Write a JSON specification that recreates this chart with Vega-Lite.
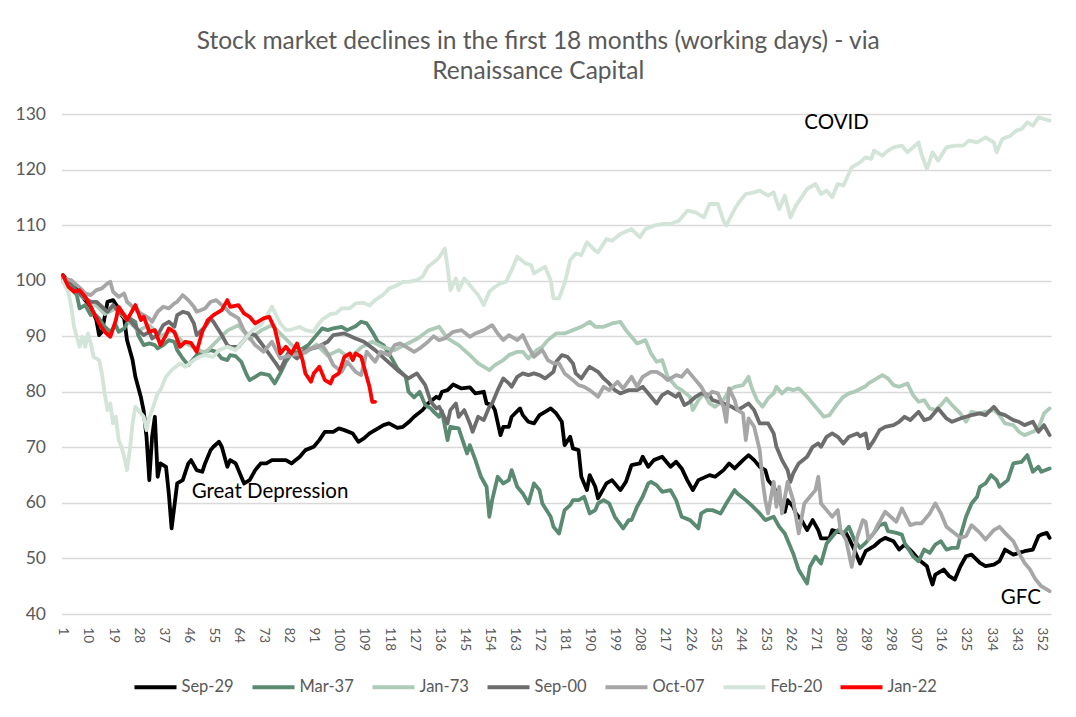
{
  "$schema": "https://vega.github.io/schema/vega-lite/v6.json",
  "width": 989.5,
  "height": 500,
  "autosize": {"type": "none"},
  "padding": {"left": 61.5, "top": 114, "right": 25, "bottom": 103},
  "background": "white",
  "title": {
    "text": ["Stock market declines in the first 18 months (working days) - via", "Renaissance Capital"],
    "font": "Lato",
    "fontSize": 24.5,
    "fontWeight": "normal",
    "color": "#595959",
    "anchor": "middle",
    "dx": -18,
    "offset": 21,
    "lineHeight": 30
  },
  "config": {
    "view": {"stroke": null},
    "font": "Lato"
  },
  "encoding": {
    "x": {
      "field": "d",
      "type": "quantitative",
      "scale": {"domain": [0.5, 355.5], "nice": false, "zero": false},
      "axis": {
        "title": null,
        "values": [1, 10, 19, 28, 37, 46, 55, 64, 73, 82, 91, 100, 109, 118, 127, 136, 145, 154, 163, 172, 181, 190, 199, 208, 217, 226, 235, 244, 253, 262, 271, 280, 289, 298, 307, 316, 325, 334, 343, 352],
        "labelAngle": 90,
        "grid": false,
        "ticks": false,
        "domain": false,
        "labelColor": "#595959",
        "labelFont": "Lato",
        "labelFontSize": 13.5,
        "labelPadding": 13,
        "labelOverlap": false,
        "labelFlush": false
      }
    },
    "y": {
      "field": "v",
      "type": "quantitative",
      "scale": {"domain": [40, 130], "nice": false, "zero": false},
      "axis": {
        "title": null,
        "values": [40, 50, 60, 70, 80, 90, 100, 110, 120, 130],
        "grid": true,
        "gridColor": "#D9D9D9",
        "gridWidth": 1.3,
        "domain": false,
        "ticks": false,
        "labelColor": "#595959",
        "labelFont": "Lato",
        "labelFontSize": 17.5,
        "labelPadding": 16
      }
    }
  },
  "layer": [
    {
      "data": {"values": [
        {"d":1,"v":101},{"d":3,"v":99.8},{"d":6,"v":98.9},{"d":8,"v":97.1},{"d":10,"v":95.9},{"d":11,"v":95.3},{"d":13,"v":92.9},{"d":14,"v":90.2},{"d":15,"v":90.8},{"d":17,"v":96.2},{"d":19,"v":96.5},{"d":21,"v":95},{"d":22,"v":93.8},{"d":23,"v":93.2},{"d":24,"v":89.3},{"d":26,"v":85.7},{"d":27,"v":82.7},{"d":29,"v":79},{"d":30,"v":76.5},{"d":31,"v":71.9},{"d":32,"v":64.1},{"d":33,"v":71.9},{"d":34,"v":75.5},{"d":35,"v":64.7},{"d":36,"v":67.1},{"d":38,"v":66.5},{"d":39,"v":61.7},{"d":40,"v":55.4},{"d":42,"v":63.5},{"d":44,"v":64.1},{"d":46,"v":67.1},{"d":47,"v":67.7},{"d":49,"v":65.9},{"d":51,"v":65.6},{"d":52,"v":67.1},{"d":54,"v":69.5},{"d":55,"v":70.1},{"d":57,"v":71},{"d":58,"v":70.1},{"d":60,"v":66.5},{"d":61,"v":67.7},{"d":63,"v":67.1},{"d":64,"v":65.9},{"d":66,"v":63.5},{"d":68,"v":64.1},{"d":70,"v":65.9},{"d":72,"v":67.1},{"d":74,"v":67.1},{"d":76,"v":67.7},{"d":79,"v":67.7},{"d":81,"v":67.7},{"d":83,"v":67.1},{"d":86,"v":68.3},{"d":88,"v":69.5},{"d":91,"v":70.1},{"d":93,"v":71.3},{"d":95,"v":72.8},{"d":98,"v":72.8},{"d":100,"v":73.4},{"d":102,"v":73.1},{"d":105,"v":72.5},{"d":107,"v":71},{"d":109,"v":71.6},{"d":111,"v":72.5},{"d":113,"v":73.1},{"d":116,"v":74},{"d":118,"v":74.3},{"d":121,"v":73.5},{"d":123,"v":73.7},{"d":125,"v":74.5},{"d":127,"v":75.5},{"d":130,"v":76.7},{"d":132,"v":77.9},{"d":135,"v":79.1},{"d":136,"v":78.8},{"d":137,"v":80},{"d":139,"v":80.3},{"d":141,"v":81.3},{"d":144,"v":80.6},{"d":147,"v":80.8},{"d":149,"v":79.7},{"d":152,"v":80},{"d":153,"v":77.9},{"d":155,"v":77.6},{"d":156,"v":76.7},{"d":158,"v":72.2},{"d":159,"v":73.7},{"d":161,"v":73.7},{"d":162,"v":75.5},{"d":165,"v":77},{"d":166,"v":75.8},{"d":168,"v":74.6},{"d":170,"v":74.3},{"d":172,"v":75.8},{"d":174,"v":76.4},{"d":176,"v":77},{"d":178,"v":76.1},{"d":180,"v":74.6},{"d":181,"v":70.4},{"d":183,"v":71.9},{"d":184,"v":69.8},{"d":186,"v":69.5},{"d":187,"v":64.7},{"d":189,"v":62.3},{"d":190,"v":65},{"d":192,"v":62.9},{"d":193,"v":60.8},{"d":195,"v":62.6},{"d":196,"v":63.5},{"d":198,"v":64.1},{"d":201,"v":62.3},{"d":203,"v":63.8},{"d":205,"v":66.8},{"d":208,"v":67.1},{"d":209,"v":68.3},{"d":211,"v":66.5},{"d":213,"v":67.7},{"d":216,"v":68.3},{"d":219,"v":66.5},{"d":221,"v":67.4},{"d":223,"v":66.2},{"d":225,"v":64.1},{"d":227,"v":62.3},{"d":229,"v":64.1},{"d":233,"v":65},{"d":235,"v":64.7},{"d":238,"v":65.9},{"d":240,"v":67.1},{"d":242,"v":66.2},{"d":245,"v":67.7},{"d":247,"v":68.6},{"d":249,"v":67.7},{"d":251,"v":66.5},{"d":253,"v":65.9},{"d":254,"v":64.1},{"d":256,"v":62.9},{"d":258,"v":60.5},{"d":260,"v":58.4},{"d":261,"v":60.5},{"d":263,"v":59.3},{"d":264,"v":58.1},{"d":266,"v":56.9},{"d":268,"v":55.1},{"d":270,"v":56.9},{"d":272,"v":55.1},{"d":273,"v":53.6},{"d":276,"v":53.6},{"d":277,"v":55.1},{"d":279,"v":54.8},{"d":282,"v":54.5},{"d":283,"v":53.6},{"d":285,"v":51.5},{"d":287,"v":49.1},{"d":289,"v":51.3},{"d":292,"v":52.2},{"d":294,"v":53.1},{"d":296,"v":53.7},{"d":299,"v":53.1},{"d":301,"v":51.6},{"d":303,"v":52.5},{"d":306,"v":51},{"d":308,"v":49.8},{"d":311,"v":48.6},{"d":312,"v":46.8},{"d":313,"v":45.3},{"d":314,"v":47.1},{"d":317,"v":48},{"d":319,"v":46.8},{"d":321,"v":46.2},{"d":323,"v":48.6},{"d":325,"v":50.4},{"d":327,"v":50.7},{"d":330,"v":49.2},{"d":332,"v":48.6},{"d":335,"v":48.9},{"d":337,"v":49.5},{"d":339,"v":51.6},{"d":342,"v":50.7},{"d":344,"v":51},{"d":346,"v":51.3},{"d":349,"v":51.6},{"d":351,"v":54},{"d":352,"v":54.3},{"d":354,"v":54.6},{"d":355,"v":53.7}
      ]},
      "mark": {"type": "line", "strokeWidth": 3.8, "strokeJoin": "round", "strokeCap": "round"},
      "encoding": {
        "color": {
          "datum": "Sep-29",
          "type": "nominal",
          "scale": {
            "domain": ["Sep-29", "Mar-37", "Jan-73", "Sep-00", "Oct-07", "Feb-20", "Jan-22"],
            "range": ["#000000", "#5B8A72", "#ADCBB8", "#6D6D6D", "#A6A6A6", "#D3E4D9", "#FF0000"]
          },
          "legend": {
            "title": null,
            "orient": "none",
            "legendX": 71,
            "legendY": 550,
            "direction": "horizontal",
            "symbolType": "stroke",
            "symbolStrokeWidth": 4,
            "symbolSize": 1764,
            "labelFont": "Lato",
            "labelFontSize": 16.5,
            "labelColor": "#595959",
            "labelOffset": 3,
            "columnPadding": 10
          }
        }
      }
    },
    {
      "data": {"values": [
        {"d":1,"v":100},{"d":4,"v":98.6},{"d":6,"v":97.4},{"d":7,"v":95},{"d":9,"v":95.6},{"d":11,"v":93.8},{"d":12,"v":94.1},{"d":14,"v":93.2},{"d":16,"v":91.7},{"d":18,"v":90.8},{"d":20,"v":92},{"d":21,"v":90.8},{"d":23,"v":91.4},{"d":25,"v":93.2},{"d":27,"v":92.6},{"d":28,"v":90.2},{"d":30,"v":88.4},{"d":32,"v":88.7},{"d":34,"v":88.4},{"d":35,"v":87.8},{"d":37,"v":88.4},{"d":39,"v":89.3},{"d":41,"v":89},{"d":42,"v":87.5},{"d":44,"v":86},{"d":46,"v":84.8},{"d":48,"v":86},{"d":49,"v":86.6},{"d":52,"v":87.2},{"d":54,"v":87.5},{"d":56,"v":87.2},{"d":58,"v":86},{"d":60,"v":85.7},{"d":61,"v":86.6},{"d":63,"v":86.4},{"d":65,"v":85.4},{"d":67,"v":83},{"d":68,"v":82.1},{"d":70,"v":82.7},{"d":72,"v":83.3},{"d":75,"v":83},{"d":77,"v":81.5},{"d":79,"v":83.3},{"d":81,"v":85.4},{"d":83,"v":86.9},{"d":86,"v":87.5},{"d":89,"v":88.4},{"d":92,"v":90.2},{"d":94,"v":91.4},{"d":96,"v":91.1},{"d":98,"v":91.4},{"d":101,"v":91.7},{"d":103,"v":91.1},{"d":106,"v":91.8},{"d":108,"v":92.6},{"d":110,"v":92.3},{"d":112,"v":90.8},{"d":114,"v":89},{"d":116,"v":88.4},{"d":119,"v":86},{"d":121,"v":84.2},{"d":124,"v":82.7},{"d":125,"v":80},{"d":127,"v":79},{"d":129,"v":80},{"d":131,"v":77.6},{"d":133,"v":77},{"d":134,"v":76.4},{"d":136,"v":75.5},{"d":137,"v":76.5},{"d":139,"v":71.3},{"d":140,"v":73.7},{"d":143,"v":73.4},{"d":144,"v":71.9},{"d":146,"v":68.9},{"d":147,"v":70.4},{"d":149,"v":67.7},{"d":151,"v":64.7},{"d":153,"v":62.9},{"d":154,"v":57.5},{"d":155,"v":60.5},{"d":157,"v":64.7},{"d":159,"v":63.5},{"d":161,"v":64.1},{"d":162,"v":65.9},{"d":164,"v":62.9},{"d":166,"v":61.7},{"d":168,"v":59.9},{"d":170,"v":63.5},{"d":172,"v":62.3},{"d":173,"v":59.9},{"d":176,"v":57.5},{"d":177,"v":55.7},{"d":179,"v":54.5},{"d":181,"v":58.7},{"d":183,"v":59.6},{"d":184,"v":60.5},{"d":186,"v":60.5},{"d":188,"v":61.1},{"d":190,"v":58.1},{"d":192,"v":58.7},{"d":193,"v":59.9},{"d":195,"v":60.5},{"d":197,"v":59.9},{"d":199,"v":57.5},{"d":202,"v":55.4},{"d":204,"v":56.9},{"d":205,"v":56.9},{"d":207,"v":59.3},{"d":209,"v":61.1},{"d":211,"v":63.5},{"d":212,"v":63.8},{"d":214,"v":63.2},{"d":216,"v":62},{"d":219,"v":62.3},{"d":221,"v":60.5},{"d":223,"v":57.5},{"d":226,"v":56.9},{"d":229,"v":55.4},{"d":230,"v":58.1},{"d":232,"v":58.7},{"d":234,"v":58.7},{"d":237,"v":58.1},{"d":239,"v":59.9},{"d":242,"v":62.3},{"d":243,"v":61.7},{"d":246,"v":60.5},{"d":248,"v":59.6},{"d":251,"v":58.1},{"d":253,"v":56.9},{"d":256,"v":57.5},{"d":258,"v":55.7},{"d":260,"v":54.5},{"d":263,"v":50.9},{"d":265,"v":47.9},{"d":268,"v":45.5},{"d":269,"v":48.5},{"d":271,"v":50.3},{"d":273,"v":49.1},{"d":275,"v":52.7},{"d":277,"v":53.9},{"d":279,"v":55.1},{"d":281,"v":54.5},{"d":283,"v":55.7},{"d":285,"v":53.3},{"d":287,"v":51.9},{"d":289,"v":52.8},{"d":292,"v":54.6},{"d":294,"v":56},{"d":296,"v":56.3},{"d":297,"v":54.9},{"d":300,"v":54.6},{"d":302,"v":54.3},{"d":303,"v":52.8},{"d":306,"v":50.4},{"d":308,"v":49.5},{"d":310,"v":51.6},{"d":312,"v":51},{"d":314,"v":52.5},{"d":316,"v":53.1},{"d":318,"v":51.6},{"d":320,"v":51.9},{"d":322,"v":51.9},{"d":323,"v":54},{"d":325,"v":57.5},{"d":327,"v":59.9},{"d":329,"v":61.1},{"d":330,"v":62.9},{"d":332,"v":63.5},{"d":334,"v":65},{"d":336,"v":64.1},{"d":337,"v":62.9},{"d":340,"v":64.1},{"d":342,"v":67.1},{"d":345,"v":67.4},{"d":347,"v":68.6},{"d":349,"v":65.6},{"d":351,"v":66.5},{"d":352,"v":65.6},{"d":355,"v":66.2}
      ]},
      "mark": {"type": "line", "strokeWidth": 3.8, "strokeJoin": "round", "strokeCap": "round"},
      "encoding": {"color": {"datum": "Mar-37", "type": "nominal"}}
    },
    {
      "data": {"values": [
        {"d":1,"v":100},{"d":4,"v":99},{"d":8,"v":97},{"d":12,"v":96},{"d":16,"v":94},{"d":20,"v":95},{"d":24,"v":93},{"d":28,"v":91},{"d":32,"v":92},{"d":36,"v":90},{"d":40,"v":91},{"d":44,"v":89},{"d":48,"v":88},{"d":52,"v":87},{"d":56,"v":89},{"d":60,"v":91},{"d":64,"v":92},{"d":68,"v":89.5},{"d":72,"v":91},{"d":76,"v":92},{"d":80,"v":90},{"d":84,"v":88},{"d":88,"v":87},{"d":92,"v":88.5},{"d":96,"v":86.5},{"d":100,"v":87.5},{"d":104,"v":86},{"d":108,"v":88},{"d":112,"v":89},{"d":116,"v":88},{"d":120,"v":87.5},{"d":124,"v":88.5},{"d":128,"v":89.5},{"d":132,"v":91},{"d":136,"v":91.7},{"d":139,"v":89.6},{"d":143,"v":88.4},{"d":147,"v":86.6},{"d":150,"v":85.1},{"d":154,"v":83.9},{"d":156,"v":84.8},{"d":159,"v":85.7},{"d":161,"v":86.6},{"d":164,"v":87.2},{"d":166,"v":87.2},{"d":168,"v":86},{"d":171,"v":87.5},{"d":173,"v":88.1},{"d":175,"v":89.3},{"d":178,"v":90.5},{"d":181,"v":90.5},{"d":184,"v":91.1},{"d":187,"v":91.7},{"d":190,"v":92.6},{"d":192,"v":91.7},{"d":195,"v":91.7},{"d":198,"v":92.3},{"d":201,"v":92.6},{"d":203,"v":91.1},{"d":205,"v":89.9},{"d":207,"v":88.7},{"d":210,"v":89.3},{"d":212,"v":86.9},{"d":214,"v":85.4},{"d":216,"v":85.7},{"d":218,"v":82.7},{"d":221,"v":80.9},{"d":223,"v":80.3},{"d":226,"v":79.1},{"d":227,"v":76.7},{"d":229,"v":78.5},{"d":231,"v":79.7},{"d":233,"v":77.9},{"d":235,"v":77.3},{"d":238,"v":78.5},{"d":240,"v":80.3},{"d":242,"v":80.9},{"d":245,"v":81.2},{"d":247,"v":82.7},{"d":248,"v":80.9},{"d":250,"v":78.5},{"d":252,"v":77.3},{"d":254,"v":78.8},{"d":256,"v":79.7},{"d":257,"v":80.9},{"d":259,"v":79.7},{"d":261,"v":80.6},{"d":263,"v":80.3},{"d":265,"v":80.6},{"d":268,"v":79.1},{"d":270,"v":77.9},{"d":272,"v":76.7},{"d":274,"v":75.5},{"d":276,"v":75.8},{"d":279,"v":77.9},{"d":281,"v":79.1},{"d":283,"v":79.7},{"d":285,"v":80},{"d":287,"v":80.5},{"d":289,"v":81},{"d":290,"v":81.5},{"d":292,"v":82.1},{"d":295,"v":83},{"d":297,"v":82.4},{"d":299,"v":81.2},{"d":301,"v":80.9},{"d":304,"v":81.5},{"d":306,"v":79.4},{"d":308,"v":78.2},{"d":310,"v":78.5},{"d":312,"v":77},{"d":314,"v":76.7},{"d":316,"v":77.6},{"d":318,"v":78.8},{"d":320,"v":77.6},{"d":323,"v":76.1},{"d":325,"v":74.6},{"d":327,"v":76.4},{"d":330,"v":76.1},{"d":332,"v":76.4},{"d":335,"v":76.7},{"d":337,"v":75.8},{"d":339,"v":74.3},{"d":342,"v":74},{"d":344,"v":72.8},{"d":346,"v":72.2},{"d":349,"v":72.8},{"d":351,"v":73.4},{"d":353,"v":76.1},{"d":355,"v":77}
      ]},
      "mark": {"type": "line", "strokeWidth": 3.8, "strokeJoin": "round", "strokeCap": "round"},
      "encoding": {"color": {"datum": "Jan-73", "type": "nominal"}}
    },
    {
      "data": {"values": [
        {"d":1,"v":100},{"d":2,"v":99.8},{"d":4,"v":99.5},{"d":6,"v":98},{"d":9,"v":96.8},{"d":11,"v":96.2},{"d":13,"v":96.2},{"d":15,"v":95.3},{"d":17,"v":94.4},{"d":19,"v":95.6},{"d":21,"v":94.4},{"d":23,"v":93.8},{"d":26,"v":92.3},{"d":28,"v":91.1},{"d":30,"v":90.2},{"d":32,"v":90.8},{"d":33,"v":89.6},{"d":35,"v":90.2},{"d":37,"v":92},{"d":39,"v":92.6},{"d":41,"v":91.7},{"d":42,"v":93.8},{"d":44,"v":94.4},{"d":46,"v":94.1},{"d":48,"v":92.3},{"d":49,"v":90.2},{"d":52,"v":91.7},{"d":54,"v":93.2},{"d":55,"v":92.6},{"d":58,"v":90.2},{"d":60,"v":88.4},{"d":61,"v":88.1},{"d":64,"v":88.1},{"d":68,"v":90.5},{"d":70,"v":90.2},{"d":74,"v":87.5},{"d":77,"v":85.4},{"d":79,"v":83.9},{"d":82,"v":87.2},{"d":85,"v":86},{"d":88,"v":87.5},{"d":92,"v":88},{"d":96,"v":89},{"d":98,"v":90.2},{"d":102,"v":90.5},{"d":106,"v":89.6},{"d":109,"v":89},{"d":113,"v":87.5},{"d":115,"v":86.6},{"d":119,"v":84.8},{"d":121,"v":83.9},{"d":125,"v":82.4},{"d":128,"v":83.3},{"d":131,"v":81.2},{"d":133,"v":78.2},{"d":135,"v":77},{"d":136,"v":77.3},{"d":139,"v":74.3},{"d":140,"v":76.7},{"d":142,"v":77.9},{"d":143,"v":75.5},{"d":145,"v":76.7},{"d":147,"v":74.3},{"d":148,"v":72.8},{"d":150,"v":75.5},{"d":152,"v":74.9},{"d":154,"v":77.3},{"d":155,"v":77.9},{"d":157,"v":80.3},{"d":159,"v":82.4},{"d":161,"v":81.5},{"d":162,"v":80.9},{"d":164,"v":82.7},{"d":166,"v":83.3},{"d":168,"v":83},{"d":170,"v":83.3},{"d":172,"v":83},{"d":174,"v":82.4},{"d":177,"v":83.6},{"d":178,"v":85.4},{"d":180,"v":86.6},{"d":182,"v":86.3},{"d":184,"v":85.1},{"d":185,"v":83.3},{"d":187,"v":82.4},{"d":189,"v":83.9},{"d":190,"v":84.5},{"d":193,"v":83.6},{"d":195,"v":82.4},{"d":197,"v":81.5},{"d":199,"v":80.3},{"d":201,"v":79.7},{"d":204,"v":80.3},{"d":207,"v":80.3},{"d":209,"v":80.9},{"d":212,"v":79.1},{"d":214,"v":77.9},{"d":216,"v":79.4},{"d":218,"v":80},{"d":221,"v":79.1},{"d":222,"v":79.7},{"d":224,"v":77.6},{"d":226,"v":78.2},{"d":228,"v":79.1},{"d":230,"v":79.7},{"d":233,"v":79.4},{"d":234,"v":78.5},{"d":236,"v":78.2},{"d":238,"v":77.9},{"d":241,"v":77.3},{"d":243,"v":76.7},{"d":245,"v":77.3},{"d":247,"v":77.9},{"d":249,"v":76.7},{"d":251,"v":74.3},{"d":254,"v":74.3},{"d":256,"v":72.5},{"d":257,"v":70.1},{"d":259,"v":67.7},{"d":261,"v":65.9},{"d":262,"v":63.8},{"d":263,"v":65.3},{"d":265,"v":67.1},{"d":268,"v":68.3},{"d":270,"v":70.1},{"d":272,"v":70.7},{"d":273,"v":70.1},{"d":275,"v":71.9},{"d":277,"v":72.5},{"d":279,"v":71.9},{"d":281,"v":70.7},{"d":283,"v":71.9},{"d":286,"v":72.5},{"d":287,"v":72},{"d":289,"v":72.5},{"d":290,"v":69.8},{"d":292,"v":71.3},{"d":294,"v":73.1},{"d":296,"v":73.7},{"d":299,"v":74},{"d":301,"v":74.6},{"d":303,"v":75.5},{"d":305,"v":74.9},{"d":308,"v":76.4},{"d":310,"v":74.9},{"d":312,"v":75.2},{"d":315,"v":77},{"d":318,"v":75.2},{"d":320,"v":74.6},{"d":323,"v":75.2},{"d":325,"v":75.5},{"d":327,"v":75.8},{"d":330,"v":76.1},{"d":332,"v":75.8},{"d":335,"v":77.3},{"d":337,"v":76.1},{"d":339,"v":75.8},{"d":342,"v":74.9},{"d":344,"v":74.6},{"d":346,"v":74},{"d":349,"v":74.6},{"d":351,"v":72.8},{"d":353,"v":74},{"d":355,"v":72.2}
      ]},
      "mark": {"type": "line", "strokeWidth": 3.8, "strokeJoin": "round", "strokeCap": "round"},
      "encoding": {"color": {"datum": "Sep-00", "type": "nominal"}}
    },
    {
      "data": {"values": [
        {"d":1,"v":100.4},{"d":4,"v":100.1},{"d":6,"v":99.2},{"d":8,"v":98.3},{"d":9,"v":97.7},{"d":11,"v":97.4},{"d":13,"v":98.3},{"d":15,"v":98.6},{"d":17,"v":99.5},{"d":18,"v":99.8},{"d":19,"v":98},{"d":21,"v":97.1},{"d":23,"v":97.7},{"d":24,"v":96.2},{"d":26,"v":95.3},{"d":28,"v":94.4},{"d":30,"v":93.8},{"d":32,"v":93.2},{"d":33,"v":92.6},{"d":35,"v":94.4},{"d":37,"v":95.3},{"d":39,"v":95},{"d":41,"v":95.9},{"d":42,"v":96.2},{"d":44,"v":97.4},{"d":46,"v":96.5},{"d":48,"v":95.3},{"d":49,"v":94.4},{"d":52,"v":95},{"d":54,"v":96.2},{"d":56,"v":96.5},{"d":58,"v":95.6},{"d":60,"v":94.7},{"d":61,"v":94.1},{"d":64,"v":93.2},{"d":66,"v":91},{"d":70,"v":88.4},{"d":73,"v":87.2},{"d":76,"v":89},{"d":79,"v":86},{"d":83,"v":86.6},{"d":87,"v":86.9},{"d":90,"v":87.8},{"d":94,"v":88.4},{"d":96,"v":86.9},{"d":98,"v":84.8},{"d":101,"v":83.6},{"d":103,"v":85.4},{"d":106,"v":83.6},{"d":108,"v":83},{"d":110,"v":87.2},{"d":113,"v":85.4},{"d":115,"v":87.2},{"d":118,"v":86.6},{"d":120,"v":88.4},{"d":122,"v":88.7},{"d":125,"v":87.8},{"d":127,"v":87.2},{"d":129,"v":87.8},{"d":132,"v":89},{"d":134,"v":90},{"d":136,"v":89.3},{"d":138,"v":89.6},{"d":141,"v":90.8},{"d":144,"v":91.1},{"d":147,"v":89.9},{"d":149,"v":90.5},{"d":152,"v":91.1},{"d":155,"v":92},{"d":157,"v":90.5},{"d":159,"v":89.3},{"d":161,"v":90.2},{"d":164,"v":89.3},{"d":166,"v":90.2},{"d":168,"v":88.1},{"d":170,"v":86.3},{"d":173,"v":87.5},{"d":175,"v":85.7},{"d":177,"v":85.1},{"d":179,"v":85.1},{"d":181,"v":83.3},{"d":184,"v":82.1},{"d":186,"v":81.2},{"d":188,"v":80.9},{"d":190,"v":80.3},{"d":193,"v":79.1},{"d":195,"v":80.9},{"d":197,"v":80.3},{"d":200,"v":81.8},{"d":202,"v":80.6},{"d":205,"v":82.7},{"d":207,"v":80.9},{"d":209,"v":82.7},{"d":212,"v":83.6},{"d":214,"v":83.6},{"d":216,"v":83},{"d":218,"v":82.1},{"d":221,"v":83},{"d":223,"v":82.7},{"d":225,"v":83.9},{"d":228,"v":82.1},{"d":230,"v":80.9},{"d":232,"v":79.1},{"d":234,"v":80},{"d":236,"v":79.7},{"d":238,"v":77.3},{"d":239,"v":74.6},{"d":240,"v":80.6},{"d":242,"v":78.5},{"d":243,"v":76.7},{"d":245,"v":76.1},{"d":246,"v":71.3},{"d":247,"v":75.2},{"d":249,"v":73.7},{"d":251,"v":69.5},{"d":252,"v":64.1},{"d":253,"v":60.5},{"d":254,"v":58.1},{"d":256,"v":63.8},{"d":257,"v":59.3},{"d":258,"v":62.9},{"d":259,"v":58.1},{"d":261,"v":63.8},{"d":263,"v":60.5},{"d":264,"v":57.5},{"d":265,"v":54.5},{"d":267,"v":59.9},{"d":269,"v":61.1},{"d":271,"v":62.3},{"d":272,"v":64.7},{"d":273,"v":59.9},{"d":275,"v":58.7},{"d":277,"v":57.5},{"d":279,"v":58.7},{"d":280,"v":55.1},{"d":282,"v":53.3},{"d":284,"v":48.5},{"d":286,"v":53.9},{"d":288,"v":56.9},{"d":289,"v":56.6},{"d":290,"v":53.4},{"d":292,"v":54.6},{"d":293,"v":55.7},{"d":296,"v":58.4},{"d":298,"v":57.5},{"d":300,"v":56.6},{"d":302,"v":59},{"d":305,"v":56},{"d":307,"v":56.3},{"d":309,"v":56.3},{"d":312,"v":58.1},{"d":314,"v":59.9},{"d":316,"v":58.1},{"d":318,"v":55.7},{"d":320,"v":54.9},{"d":323,"v":53.7},{"d":325,"v":54},{"d":327,"v":56},{"d":330,"v":54.6},{"d":332,"v":53.4},{"d":335,"v":55.1},{"d":337,"v":55.7},{"d":339,"v":54.6},{"d":342,"v":53.1},{"d":344,"v":51},{"d":346,"v":49.2},{"d":348,"v":48},{"d":350,"v":46.2},{"d":352,"v":45},{"d":355,"v":44.1}
      ]},
      "mark": {"type": "line", "strokeWidth": 3.8, "strokeJoin": "round", "strokeCap": "round"},
      "encoding": {"color": {"datum": "Oct-07", "type": "nominal"}}
    },
    {
      "data": {"values": [
        {"d":1,"v":100},{"d":3,"v":97.8},{"d":4,"v":95.3},{"d":5,"v":91.7},{"d":7,"v":88.1},{"d":8,"v":89.9},{"d":9,"v":88.1},{"d":10,"v":90.5},{"d":11,"v":88.7},{"d":12,"v":86.3},{"d":14,"v":85.7},{"d":15,"v":83.3},{"d":16,"v":79.7},{"d":17,"v":76.7},{"d":18,"v":77.9},{"d":19,"v":74.3},{"d":20,"v":75.5},{"d":21,"v":71.3},{"d":22,"v":70.1},{"d":23,"v":68.3},{"d":24,"v":65.9},{"d":25,"v":69.5},{"d":26,"v":74.3},{"d":27,"v":77.3},{"d":29,"v":76.1},{"d":30,"v":75.5},{"d":31,"v":73.1},{"d":32,"v":75.5},{"d":33,"v":76.7},{"d":35,"v":79.7},{"d":36,"v":80.3},{"d":38,"v":82.7},{"d":40,"v":83.9},{"d":43,"v":85.1},{"d":45,"v":84.5},{"d":48,"v":85.7},{"d":50,"v":86.3},{"d":52,"v":86.6},{"d":55,"v":86.3},{"d":57,"v":87.5},{"d":60,"v":88.1},{"d":63,"v":87.5},{"d":66,"v":89.3},{"d":69,"v":91.1},{"d":72,"v":92},{"d":74,"v":93.5},{"d":76,"v":95.3},{"d":79,"v":92.3},{"d":81,"v":91.1},{"d":83,"v":91.2},{"d":86,"v":91.7},{"d":88,"v":91.1},{"d":91,"v":90.8},{"d":92,"v":91.7},{"d":94,"v":93},{"d":97,"v":94},{"d":99,"v":94.1},{"d":101,"v":95},{"d":104,"v":95},{"d":106,"v":95.9},{"d":109,"v":96},{"d":111,"v":95.5},{"d":113,"v":96.5},{"d":116,"v":97.5},{"d":118,"v":98.6},{"d":121,"v":99.2},{"d":123,"v":99.8},{"d":125,"v":99.8},{"d":128,"v":100.1},{"d":130,"v":100.7},{"d":132,"v":102.5},{"d":135,"v":103.7},{"d":136,"v":104.2},{"d":138,"v":105.8},{"d":139,"v":102.5},{"d":140,"v":98.3},{"d":142,"v":100.4},{"d":143,"v":98.3},{"d":145,"v":100.4},{"d":147,"v":99.2},{"d":150,"v":97.4},{"d":152,"v":95.6},{"d":154,"v":98},{"d":156,"v":98.9},{"d":158,"v":99.5},{"d":160,"v":99.8},{"d":162,"v":101.9},{"d":164,"v":104.3},{"d":167,"v":103.1},{"d":169,"v":102.8},{"d":170,"v":101.3},{"d":174,"v":102.5},{"d":176,"v":100.1},{"d":177,"v":96.8},{"d":179,"v":96.8},{"d":181,"v":99.5},{"d":183,"v":103.7},{"d":185,"v":104.9},{"d":187,"v":104.6},{"d":189,"v":106.9},{"d":192,"v":105.4},{"d":193,"v":105.1},{"d":196,"v":107.5},{"d":198,"v":107.2},{"d":201,"v":108.4},{"d":205,"v":109.3},{"d":208,"v":107.8},{"d":210,"v":109.3},{"d":213,"v":109.9},{"d":216,"v":110.2},{"d":219,"v":110.2},{"d":222,"v":110.8},{"d":225,"v":112.6},{"d":228,"v":112.3},{"d":231,"v":111.4},{"d":233,"v":113.8},{"d":236,"v":113.8},{"d":238,"v":110.8},{"d":239,"v":109.9},{"d":242,"v":112.9},{"d":244,"v":114.4},{"d":246,"v":115.6},{"d":249,"v":115.9},{"d":251,"v":116.2},{"d":254,"v":115.3},{"d":256,"v":115.9},{"d":258,"v":112.9},{"d":260,"v":115.3},{"d":262,"v":111.4},{"d":264,"v":113.5},{"d":266,"v":115},{"d":268,"v":116.5},{"d":271,"v":117.4},{"d":273,"v":115.6},{"d":275,"v":116.2},{"d":277,"v":115},{"d":279,"v":117.4},{"d":281,"v":117.1},{"d":284,"v":120.4},{"d":287,"v":121.3},{"d":289,"v":122.2},{"d":291,"v":121.9},{"d":292,"v":123.4},{"d":295,"v":122.5},{"d":297,"v":123.4},{"d":299,"v":124},{"d":302,"v":124.3},{"d":304,"v":123.1},{"d":306,"v":124},{"d":308,"v":124.9},{"d":309,"v":122.8},{"d":311,"v":120.1},{"d":313,"v":123.1},{"d":315,"v":121.6},{"d":318,"v":124},{"d":321,"v":124.3},{"d":324,"v":124.3},{"d":326,"v":125.2},{"d":329,"v":124.9},{"d":332,"v":125.8},{"d":335,"v":124.9},{"d":336,"v":123.1},{"d":338,"v":125.5},{"d":341,"v":126.1},{"d":343,"v":127},{"d":345,"v":127.3},{"d":347,"v":128.5},{"d":349,"v":127.9},{"d":351,"v":129.4},{"d":353,"v":129.1},{"d":355,"v":128.8}
      ]},
      "mark": {"type": "line", "strokeWidth": 3.8, "strokeJoin": "round", "strokeCap": "round"},
      "encoding": {"color": {"datum": "Feb-20", "type": "nominal"}}
    },
    {
      "data": {"values": [
        {"d":1,"v":101},{"d":3,"v":98.9},{"d":5,"v":98},{"d":7,"v":98.3},{"d":9,"v":97.1},{"d":11,"v":95.3},{"d":14,"v":92.3},{"d":16,"v":90.8},{"d":18,"v":89.9},{"d":20,"v":92.9},{"d":21,"v":95.3},{"d":23,"v":93.8},{"d":24,"v":92.9},{"d":27,"v":95.6},{"d":29,"v":92.9},{"d":30,"v":93.5},{"d":32,"v":90.8},{"d":34,"v":91.1},{"d":36,"v":88.4},{"d":38,"v":90.2},{"d":39,"v":91.4},{"d":41,"v":90.8},{"d":43,"v":88.1},{"d":45,"v":89},{"d":47,"v":88.8},{"d":49,"v":87.2},{"d":51,"v":90.8},{"d":53,"v":92.9},{"d":55,"v":93.8},{"d":58,"v":94.7},{"d":60,"v":96.5},{"d":61,"v":95.3},{"d":64,"v":95.6},{"d":66,"v":94.1},{"d":68,"v":93.5},{"d":70,"v":92.3},{"d":73,"v":93.2},{"d":75,"v":93.5},{"d":77,"v":91.4},{"d":78,"v":89.3},{"d":79,"v":86.9},{"d":81,"v":88.1},{"d":83,"v":86.9},{"d":85,"v":88.7},{"d":87,"v":85.7},{"d":88,"v":83.3},{"d":90,"v":81.8},{"d":91,"v":83.3},{"d":93,"v":84.5},{"d":95,"v":82.1},{"d":97,"v":81.5},{"d":98,"v":82.7},{"d":100,"v":83.3},{"d":102,"v":86.3},{"d":104,"v":86.9},{"d":105,"v":85.7},{"d":106,"v":86.9},{"d":108,"v":86.3},{"d":109,"v":84.5},{"d":111,"v":80.9},{"d":112,"v":78.2},{"d":113,"v":78.2}
      ]},
      "mark": {"type": "line", "strokeWidth": 3.8, "strokeJoin": "round", "strokeCap": "round"},
      "encoding": {"color": {"datum": "Jan-22", "type": "nominal"}}
    },
    {
      "data": {"values": [
        {"d":267,"v":128.3,"t":"COVID"},
        {"d":47.2,"v":62,"t":"Great Depression"},
        {"d":337.5,"v":42.8,"t":"GFC"}
      ]},
      "mark": {"type": "text", "align": "left", "baseline": "middle", "font": "Lato", "fontSize": 20.5, "color": "#000000"},
      "encoding": {"text": {"field": "t"}}
    }
  ]
}
